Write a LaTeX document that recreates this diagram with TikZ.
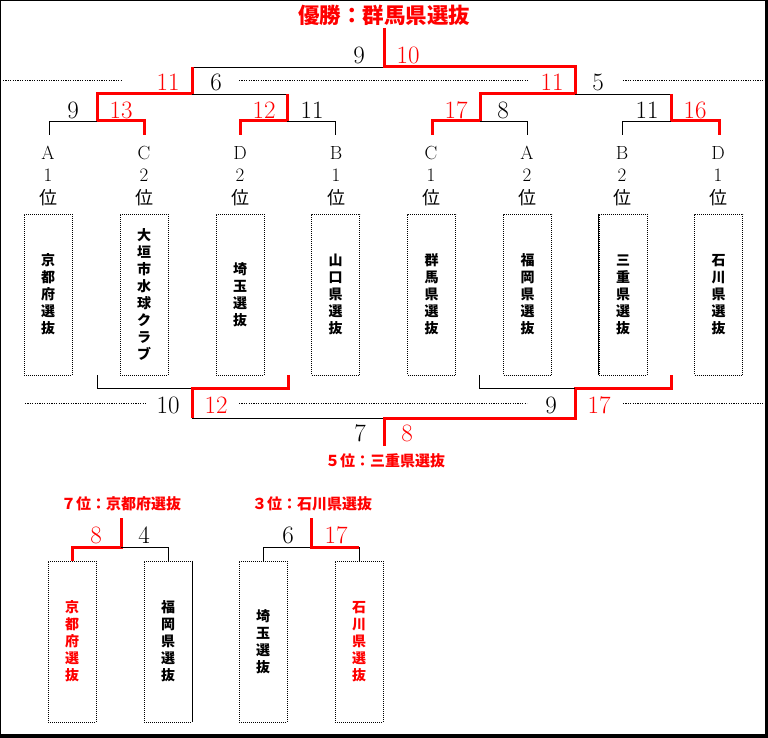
\documentclass[tikz,border=0pt]{standalone}
\usepackage{fontspec}
\newfontfamily\cjk{Noto Sans CJK JP}
\begin{document}
\begin{tikzpicture}[x=1pt,y=-1pt,
  win/.style={red, line width=3pt},
  lose/.style={black, line width=0.9pt},
  dotline/.style={black, line width=0.9pt, dash pattern=on 1.2pt off 1.2pt},
  sc/.style={inner sep=0pt, font=\fontsize{25}{25}\selectfont},
  scr/.style={sc, text=red},
  ttl/.style={inner sep=0pt, text=red, font=\cjk\bfseries\fontsize{21.5}{21.5}\selectfont},
  rank/.style={inner sep=0pt, text=red, font=\cjk\bfseries\fontsize{15}{15}\selectfont},
  lab/.style={inner sep=0pt, font=\fontsize{19}{19}\selectfont},
  labj/.style={inner sep=0pt, font=\cjk\fontsize{18}{18}\selectfont},
  teambox/.style={draw, line width=0.8pt, dash pattern=on 1pt off 1pt, minimum width=48pt, minimum height=161pt, inner sep=0pt, align=center, font=\cjk\bfseries\fontsize{14}{17}\selectfont}
]
\fill[black] (0,0) rectangle (768,738);
\fill[white] (1,1) rectangle (765,734);
\useasboundingbox (0,0) rectangle (768,738);

% title
\node[ttl] (title) at (384,15) {優勝：群馬県選抜};

% top bracket
\draw[lose] (192,67) -- (384,67);
\draw[win] (384,28) -- (384,67) -- (575,67) -- (575,94) -- (480,94) -- (480,121) -- (432,121) -- (432,135);
\draw[win] (192,67) -- (192,94) -- (97,94) -- (97,121) -- (144,121) -- (144,135);
\draw[lose] (192,94) -- (287,94);
\draw[win] (287,94) -- (287,121) -- (240,121) -- (240,135);
\draw[lose] (49,135) -- (49,121) -- (97,121);
\draw[lose] (287,121) -- (335,121) -- (335,135);
\draw[lose] (575,94) -- (671,94);
\draw[win] (671,94) -- (671,121) -- (719,121) -- (719,135);
\draw[lose] (480,121) -- (527,121) -- (527,135);
\draw[lose] (622,135) -- (622,121) -- (671,121);

% dotted lines
\draw[dotline] (3,80) -- (121,80);
\draw[dotline] (239,80) -- (528,80);
\draw[dotline] (623,80) -- (765,80);
\draw[dotline] (25,403) -- (146,403);
\draw[dotline] (239,403) -- (527,403);
\draw[dotline] (623,403) -- (765,403);

% top scores
\node[sc] (s1) at (359,55) {9};
\node[scr] (s2) at (408,55) {10};
\node[scr] (s3) at (168,82) {11};
\node[sc] (s4) at (216,82) {6};
\node[scr] (s5) at (552,82) {11};
\node[sc] (s6) at (598,82) {5};
\node[sc] (s7) at (73,110) {9};
\node[scr] (s8) at (121,110) {13};
\node[scr] (s9) at (264,110) {12};
\node[sc] (s10) at (312,110) {11};
\node[scr] (s11) at (456,110) {17};
\node[sc] (s12) at (503,110) {8};
\node[sc] (s13) at (647,110) {11};
\node[scr] (s14) at (695,110) {16};

% group labels
\foreach \x/\g/\n [count=\i] in {48/A/1,144/C/2,240/D/2,336/B/1,431/C/1,527/A/2,622/B/2,718/D/1}{
  \node[lab] (g\i) at (\x,153) {\g};
  \node[lab] (n\i) at (\x,175) {\n};
  \node[labj] (p\i) at (\x,198) {位};
}

% team boxes
\node[teambox] (t1) at (48,294.5) {京\\都\\府\\選\\抜};
\node[teambox] (t2) at (144,294.5) {大\\垣\\市\\水\\球\\ク\\ラ\\ブ};
\node[teambox] (t3) at (240,294.5) {埼\\玉\\選\\抜};
\node[teambox] (t4) at (335.5,294.5) {山\\口\\県\\選\\抜};
\node[teambox] (t5) at (431.5,294.5) {群\\馬\\県\\選\\抜};
\node[teambox] (t6) at (527.5,294.5) {福\\岡\\県\\選\\抜};
\node[teambox] (t7) at (623,294.5) {三\\重\\県\\選\\抜};
\node[teambox] (t8) at (718.5,294.5) {石\\川\\県\\選\\抜};
\draw[line width=0.8pt] (t7.north west) -- (t7.south west);

% lower bracket
\draw[lose] (97,375) -- (97,388) -- (192,388);
\draw[win] (288,375) -- (288,388) -- (192,388) -- (192,418);
\draw[lose] (192,418) -- (384,418);
\draw[win] (384,446) -- (384,418) -- (575,418) -- (575,388) -- (671,388) -- (671,375);
\draw[lose] (479,375) -- (479,388) -- (575,388);

\node[sc] (l1) at (168,405) {10};
\node[scr] (l2) at (216,405) {12};
\node[sc] (l3) at (551,405) {9};
\node[scr] (l4) at (599,405) {17};
\node[sc] (l5) at (360,433) {7};
\node[scr] (l6) at (407,433) {8};
\node[rank] (r5) at (385,461) {５位：三重県選抜};

% bottom brackets
\node[rank] (r7) at (121,504) {７位：京都府選抜};
\node[rank] (r3) at (312,504) {３位：石川県選抜};
\draw[win] (121,518) -- (121,547) -- (72,547) -- (72,561);
\draw[lose] (121,547) -- (168,547) -- (168,561);
\draw[lose] (263,561) -- (263,547) -- (311,547);
\draw[win] (311,518) -- (311,547) -- (359,547);
\draw[lose] (359,547) -- (359,561);
\node[scr] (b1) at (96,535) {8};
\node[sc] (b2) at (144,535) {4};
\node[sc] (b3) at (288,535) {6};
\node[scr] (b4) at (336,535) {17};

\node[teambox, text=red] (u1) at (72,641.5) {京\\都\\府\\選\\抜};
\node[teambox] (u2) at (168,641.5) {福\\岡\\県\\選\\抜};
\node[teambox] (u3) at (263,641.5) {埼\\玉\\選\\抜};
\node[teambox, text=red] (u4) at (359,641.5) {石\\川\\県\\選\\抜};
\draw[line width=0.8pt] (u2.north east) -- (u2.south east);
\end{tikzpicture}
\end{document}
